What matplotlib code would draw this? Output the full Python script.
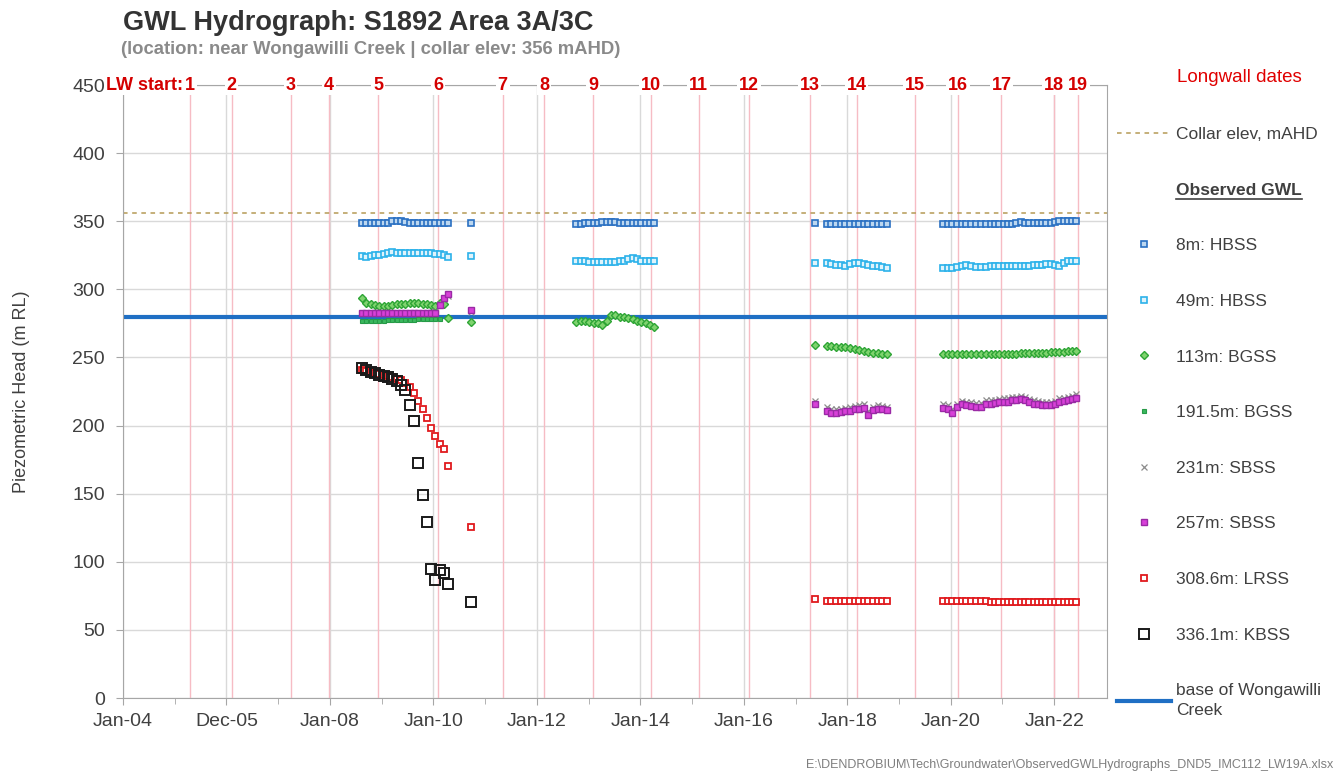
import matplotlib.pyplot as plt
from matplotlib.lines import Line2D
import numpy as np

plt.rcParams['font.family'] = ['Liberation Sans', 'DejaVu Sans']

# reading dates (decimal years) for each monitoring campaign
t_a = [2008.62, 2008.70, 2008.79, 2008.87, 2008.95, 2009.04, 2009.12, 2009.20, 2009.29, 2009.37, 2009.45,
       2009.54, 2009.62, 2009.70, 2009.79, 2009.87, 2009.95, 2010.04, 2010.12, 2010.21, 2010.29, 2010.72]
t_b = [2012.76, 2012.85, 2012.93, 2013.01, 2013.10, 2013.18, 2013.26, 2013.35, 2013.43, 2013.51,
       2013.60, 2013.68, 2013.76, 2013.85, 2013.93, 2014.01, 2014.10, 2014.18, 2014.26]
t_c = [2017.37, 2017.60, 2017.69, 2017.78, 2017.87, 2017.96, 2018.05, 2018.14, 2018.23, 2018.32,
       2018.41, 2018.50, 2018.59, 2018.68, 2018.76]
t_d = [2019.85, 2019.94, 2020.03, 2020.12, 2020.21, 2020.30, 2020.39, 2020.48, 2020.59, 2020.69,
       2020.77, 2020.85, 2020.94, 2021.02, 2021.10, 2021.19, 2021.27, 2021.35, 2021.44, 2021.52,
       2021.60, 2021.69, 2021.77, 2021.85, 2021.94, 2022.02, 2022.10, 2022.19, 2022.27, 2022.35, 2022.43]

# groundwater levels (m RL); None = no reading in that campaign
hbss_8 = {
    'a': [349, 349, 348.5, 348.5, 349, 349, 348.5, 350, 350, 350.5, 349.5, 349, 349, 348.5, 348.5,
          348.5, 348.5, 348.5, 348.5, 348.5, 349, 349],
    'b': [348, 348, 348.5, 348.5, 349, 349, 349.5, 349.5, 349.5, 349.5, 349, 349, 349, 349, 348.5,
          348.5, 348.5, 348.5, 348.5],
    'c': [349, 348, 348, 348, 348, 348, 348, 348, 348, 348, 348, 348, 348, 348, 348],
    'd': [348, 348, 348, 348, 348, 348, 348, 348, 348, 348, 348, 348, 348, 348, 348, 348, 348.5,
          349.5, 349, 348.5, 348.5, 348.5, 348.5, 348.5, 349, 349.5, 350, 350, 350.5, 350.5, 350.5],
}
hbss_49 = {
    'a': [324.5, 324, 324.5, 325, 325.5, 326, 326.5, 327.5, 327, 327, 327, 327, 327, 327, 326.5,
          326.5, 326.5, 326, 326, 325, 323.5, 324.5],
    'b': [320.5, 321, 320.5, 320, 320, 320, 320, 320, 320, 320, 320.5, 321, 322, 323, 322, 321,
          320.5, 320.5, 320.5],
    'c': [319.5, 319, 318.5, 318, 318, 317.5, 318.5, 319, 319, 318.5, 318, 317.5, 317, 316.5, 316],
    'd': [315.5, 315.5, 316, 316.5, 317.5, 318, 317, 316.5, 316.5, 316.5, 317, 317, 317, 317, 317,
          317, 317.5, 317.5, 317.5, 317.5, 318, 318, 318, 318.5, 318.5, 318, 317.5, 319.5, 320.5,
          320.5, 320.5],
}
bgss_113 = {
    'a': [294, 290, 289, 288.5, 288, 288, 288, 288.5, 289, 289, 289.5, 290, 290, 290, 289.5, 289,
          288.5, 288, 290, 289, 279, 276],
    'b': [276, 276.5, 276.5, 276, 275.5, 275, 274, 276.5, 281, 281, 280, 279.5, 279, 278, 277, 276,
          275, 274, 272.5],
    'c': [259, 258.5, 258.5, 258, 258, 257.5, 257, 256.5, 255.5, 254.5, 254, 253.5, 253, 252.5, 252.5],
    'd': [252.5, 252.5, 252.5, 252.5, 252.5, 252.5, 252.5, 252.5, 252.5, 252.5, 252.5, 252.5, 252.5,
          252.5, 252.5, 252.5, 252.5, 253, 253, 253, 253.5, 253.5, 253.5, 253.5, 254, 254, 254, 254,
          254.5, 254.5, 254.5],
}
bgss_191 = {
    'a': [277, 277, 277, 277, 277, 277, 277.5, 277.5, 277.5, 277.5, 277.5, 277.5, 277.5, 278, 278,
          278, 278, 278, 278.5, None, None, None],
}
sbss_231 = {
    'a': [283, 283, 283, 283, 283, 283, 283, 283, 283, 283, 283, 283, 283, 283, 283, 283, 283, 284,
          289, 293, 295, 283.5],
    'c': [218, 213.5, 212, 212, 212.5, 213, 213.5, 214.5, 215, 215.5, 211, 214, 215, 214.5, 214],
    'd': [215.5, 215, 212, 216, 218, 217.5, 217, 216.5, 216.5, 218.5, 218.5, 219, 219.5, 220, 220,
          221, 221, 222, 221, 219.5, 218.5, 218, 217.5, 217.5, 217.5, 218, 220, 220.5, 221, 222, 223],
}
sbss_257 = {
    'a': [283, 282.5, 282.5, 282.5, 282.5, 282.5, 282.5, 282.5, 282.5, 282.5, 282.5, 282.5, 282.5,
          282.5, 282.5, 282.5, 282.5, 283, 288.5, 293.5, 296.5, 285],
    'c': [216, 211, 209.5, 209.5, 210, 210.5, 211, 212, 212.5, 213, 208, 211.5, 212.5, 212, 211.5],
    'd': [213, 212.5, 209.5, 213.5, 215.5, 215, 214.5, 214, 214, 216, 216, 216.5, 217, 217.5, 217.5,
          218.5, 218.5, 219.5, 218.5, 217, 216, 215.5, 215, 215, 215, 215.5, 217.5, 218, 218.5,
          219.5, 220.5],
}
lrss_308 = {
    'a': [241, 240, 239.5, 238.5, 238, 237, 236.5, 235.5, 234.5, 233.5, 231.5, 228, 224, 218, 212,
          205.5, 198.5, 192, 186.5, 182.5, 170.5, 125.5],
    'c': [72.5, 71.5, 71.5, 71.5, 71.5, 71.5, 71, 71, 71, 71, 71, 71, 71, 71, 71],
    'd': [71, 71, 71, 71, 71, 71, 71, 71, 71, 71, 70.5, 70.5, 70.5, 70.5, 70.5, 70.5, 70.5, 70.5,
          70.5, 70.5, 70.5, 70.5, 70.5, 70.5, 70.5, 70.5, 70.5, 70.5, 70.5, 70.5, 70.5],
}
kbss_336 = {
    'a': [242, 240.5, 239.5, 238.5, 237.5, 236.5, 235.5, 234, 232.5, 230, 226, 215, 203.5, 172.5,
          149, 129.5, 95, 87, 94, 91.5, 83.5, 70.5],
}

collar_elev = 356
creek_base = 280

# longwall start dates (decimal years)
lw_names = [str(i) for i in range(1, 20)]
lw_start = [2005.29, 2006.10, 2007.24, 2007.98, 2008.93, 2010.09, 2011.34, 2012.14, 2013.09, 2014.20,
            2015.13, 2016.10, 2017.27, 2018.18, 2019.30, 2020.14, 2020.98, 2021.99, 2022.46]

xtick_pos = [2004, 2006, 2008, 2010, 2012, 2014, 2016, 2018, 2020, 2022]
xtick_labels = ['Jan-04', 'Dec-05', 'Jan-08', 'Jan-10', 'Jan-12', 'Jan-14', 'Jan-16', 'Jan-18',
                'Jan-20', 'Jan-22']

times = {'a': t_a, 'b': t_b, 'c': t_c, 'd': t_d}


def series_xy(series):
    xs, ys = [], []
    for key, vals in series.items():
        for t, v in zip(times[key], vals):
            if v is not None:
                xs.append(t)
                ys.append(v)
    return xs, ys


styles = [
    (hbss_8, '8m: HBSS', dict(marker='s', ms=4.8, mfc='#bcd7f0', mec='#2a70c2', mew=1.2)),
    (hbss_49, '49m: HBSS', dict(marker='s', ms=4.8, mfc='#dff3fb', mec='#2cb2ea', mew=1.2)),
    (bgss_113, '113m: BGSS', dict(marker='D', ms=3.8, mfc='#7fd36e', mec='#2ea535', mew=1.0)),
    (bgss_191, '191.5m: BGSS', dict(marker='s', ms=3.4, mfc='#3bb85e', mec='#279a48', mew=0.8)),
    (sbss_231, '231m: SBSS', dict(marker='x', ms=4, mec='#8c8c8c', mew=0.9)),
    (sbss_257, '257m: SBSS', dict(marker='s', ms=5, mfc='#d840d8', mec='#9a2aa5', mew=1.0)),
    (lrss_308, '308.6m: LRSS', dict(marker='s', ms=4.5, mfc='white', mec='#e01a1e', mew=1.3)),
    (kbss_336, '336.1m: KBSS', dict(marker='s', ms=7, mfc='none', mec='#1a1a1a', mew=1.4)),
]

fig = plt.figure(figsize=(13.41, 7.78), dpi=100)
ax = fig.add_axes([0.0917, 0.1028, 0.7338, 0.7879])

ax.set_xlim(2004, 2023.02)
ax.set_ylim(0, 450)

# longwall start markers
for t in lw_start:
    ax.axvline(t, color='#f6bcc4', lw=1, zorder=1)

collar_line = ax.axhline(collar_elev, color='#b59a55', lw=1.1, ls=(0, (3, 3)), zorder=2,
                         label='Collar elev, mAHD')
creek_line = ax.axhline(creek_base, color='#1f6fc4', lw=3, zorder=2,
                        label='base of Wongawilli\nCreek')

handles = []
for i, (series, label, st) in enumerate(styles):
    xs, ys = series_xy(series)
    h, = ax.plot(xs, ys, ls='none', label=label, zorder=3 + i, **st)
    handles.append(h)

# axes styling
ax.set_yticks(np.arange(0, 451, 50))
ax.set_xticks(xtick_pos)
ax.set_xticklabels(xtick_labels)
ax.set_xticks(np.arange(2005, 2023, 2), minor=True)
ax.grid(True, which='major', color='#d9d9d9', lw=1, zorder=0)
ax.set_axisbelow(True)
for s in ax.spines.values():
    s.set_color('#a6a6a6')
ax.tick_params(axis='both', which='major', labelsize=14, colors='#a6a6a6', labelcolor='#404040',
               length=5)
ax.tick_params(axis='x', which='minor', length=4, colors='#a6a6a6')
ax.tick_params(axis='x', which='major', pad=6)
ax.tick_params(axis='y', which='major', pad=8)
ax.set_ylabel('Piezometric Head (m RL)', fontsize=13, color='#404040', labelpad=30)

# longwall labels sit on the top gridline
for name, t in zip(lw_names, lw_start):
    ax.text(t, 450, name, ha='center', va='center', color='#d40000', fontsize=13,
            fontweight='bold', zorder=20,
            bbox=dict(boxstyle='square,pad=0.1', fc='white', ec='none'))
ax.annotate('LW start:', xy=(lw_start[0], 450), xytext=(-5, 0), textcoords='offset points',
            ha='right', va='center', color='#d40000', fontsize=13, fontweight='bold',
            annotation_clip=False, zorder=20,
            bbox=dict(boxstyle='square,pad=0.1', fc='white', ec='none'))

# titles
fig.text(123 / 1341, 1 - 23 / 778, 'GWL Hydrograph: S1892 Area 3A/3C', fontsize=19.5,
         fontweight='bold', color='#333333', ha='left', va='center')
fig.text(121 / 1341, 1 - 49 / 778, '(location: near Wongawilli Creek | collar elev: 356 mAHD)',
         fontsize=13.3, fontweight='bold', color='#8a8a8a', ha='left', va='center')

# legend
header = Line2D([], [], color='none', label='Observed GWL')
leg = fig.legend(handles=[collar_line, header] + handles + [creek_line],
                 loc='upper left', bbox_to_anchor=(1117 / 1341, 1 - 127 / 778),
                 frameon=False, fontsize=12.5, numpoints=1, handlelength=3.1,
                 handletextpad=0.3, labelspacing=2.33, borderpad=0, borderaxespad=0)
for txt in leg.get_texts():
    txt.set_color('#404040')
leg.get_texts()[-1].set_linespacing(1.45)
obs_txt = leg.get_texts()[1]
obs_txt.set_fontweight('bold')

fig.text(1177 / 1341, 1 - 78 / 778, 'Longwall dates', color='#e00000', fontsize=13.5,
         ha='left', va='center')

fig.text(1333 / 1341, 1 - 765 / 778,
         'E:\\DENDROBIUM\\Tech\\Groundwater\\ObservedGWLHydrographs_DND5_IMC112_LW19A.xlsx',
         fontsize=9, color='#7f7f7f', ha='right', va='center')

# underline the legend header
fig.canvas.draw()
bb = obs_txt.get_window_extent().transformed(fig.transFigure.inverted())
fig.add_artist(Line2D([bb.x0, bb.x1], [bb.y0 - 0.002, bb.y0 - 0.002], color='#404040', lw=1.2,
                      transform=fig.transFigure))

fig.savefig('out.png', dpi=100)
